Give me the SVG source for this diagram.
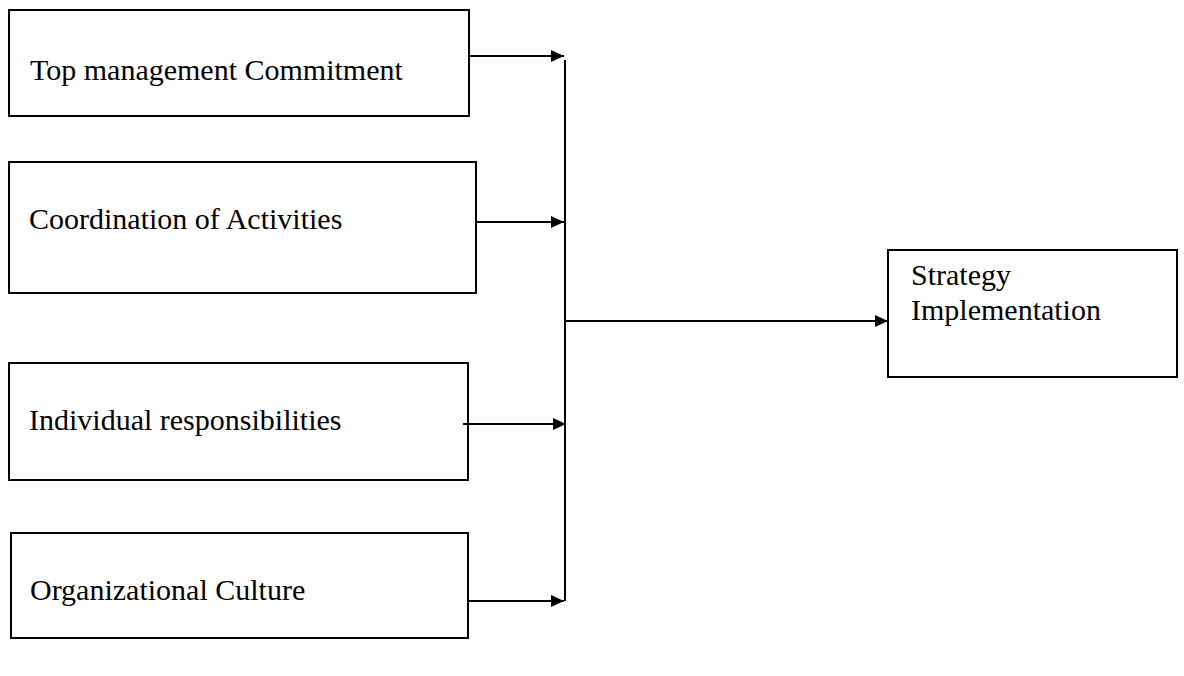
<svg xmlns="http://www.w3.org/2000/svg" width="1184" height="676" viewBox="0 0 1184 676">
<defs>
<marker id="arr" markerUnits="userSpaceOnUse" markerWidth="15" markerHeight="13" refX="13" refY="6" orient="auto">
<path d="M0,0 L13,6 L0,12 Z" fill="#000"/>
</marker>
<style>
.box{fill:#fff;stroke:#000;stroke-width:2}
.lbl{font-family:'Liberation Serif', 'Times New Roman', serif;font-size:30px;fill:#000}
.con{stroke:#000;stroke-width:2;fill:none}
</style>
</defs>
<rect width="1184" height="676" fill="#fff"/>
<g id="n1"><rect class="box" x="9" y="10" width="460" height="106"/><text class="lbl" x="30" y="80">Top management Commitment</text></g>
<g id="n2"><rect class="box" x="9" y="162" width="467" height="131"/><text class="lbl" x="29" y="229">Coordination of Activities</text></g>
<g id="n3"><rect class="box" x="9" y="363" width="459" height="117"/><text class="lbl" x="29" y="430">Individual responsibilities</text></g>
<g id="n4"><rect class="box" x="11" y="533" width="457" height="105"/><text class="lbl" x="30" y="600">Organizational Culture</text></g>
<g id="n5"><rect class="box" x="888" y="250" width="289" height="127"/><text class="lbl" x="911" y="285">Strategy</text><text class="lbl" x="911" y="320">Implementation</text></g>
<g id="connectors">
<line class="con" x1="565" y1="60" x2="565" y2="601"/>
<line class="con" x1="469" y1="56" x2="564" y2="56" marker-end="url(#arr)"/>
<line class="con" x1="476" y1="222" x2="564" y2="222" marker-end="url(#arr)"/>
<line class="con" x1="463" y1="424" x2="566" y2="424" marker-end="url(#arr)"/>
<line class="con" x1="468" y1="601" x2="564" y2="601" marker-end="url(#arr)"/>
<line class="con" x1="565" y1="321" x2="888" y2="321" marker-end="url(#arr)"/>
</g>
</svg>
